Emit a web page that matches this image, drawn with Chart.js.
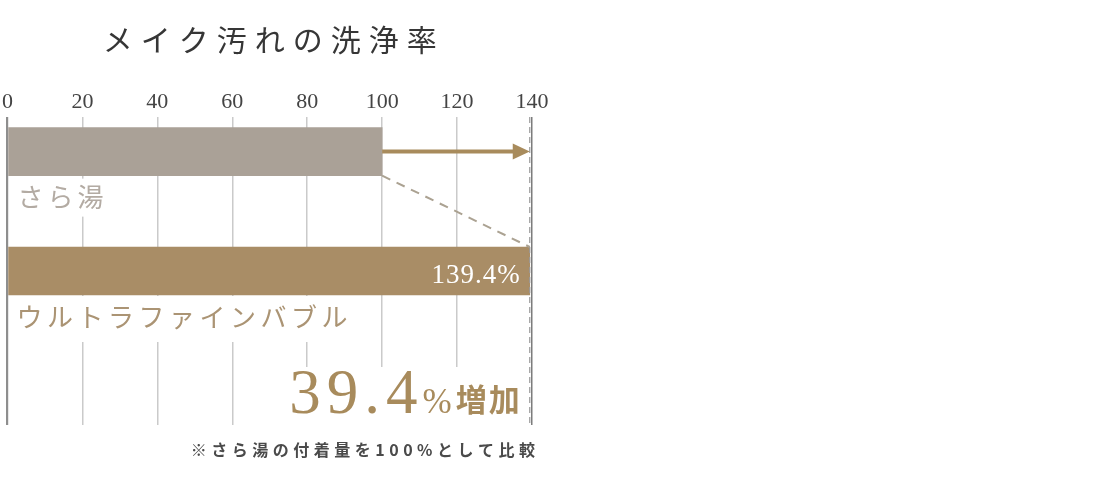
<!DOCTYPE html>
<html lang="ja">
<head>
<meta charset="utf-8">
<script src="https://cdn.jsdelivr.net/npm/chart.js@4/dist/chart.umd.min.js"></script>
<style>
  html, body { margin: 0; padding: 0; background: #fff; }
  #wrap { position: relative; width: 560px; height: 484px; }
</style>
</head>
<body>
<div id="wrap"><canvas id="rateChart"></canvas></div>
<script>
// data
var chartTitle = 'メイク汚れの洗浄率'
var categories = ['さら湯', 'ウルトラファインバブル']
var rates = [100, 139.4]
var xMin = 0, xMax = 140, xStep = 20
var footNote = '※さら湯の付着量を100%として比較'

var barColors = ['#aaa197', '#a98d66']
var labelColors = ['#b3aba3', '#ab9474']
var gold = '#a88b5c'

var JP = '"Noto Sans CJK JP", "Noto Sans", sans-serif'
var SERIF = '"Liberation Serif", "DejaVu Serif", serif'

// draws text char by char so the spacing matches the print look
function spaced(ctx, text, x, y, gap, align) {
    var chars = Array.from(text)
    var widths = chars.map(function (c) { return ctx.measureText(c).width })
    var total = widths.reduce(function (a, b) { return a + b }, 0) + gap * (chars.length - 1)
    var cx = x
    if (align == 'right') cx = x - total
    else if (align == 'center') cx = x - total / 2
    ctx.textAlign = 'left'
    chars.forEach(function (c, i) {
        ctx.fillText(c, cx, y)
        cx += widths[i] + gap
    })
    return total
}

var extras = {
    id: 'extras',
    afterDatasetsDraw: function (chart) {
        var ctx = chart.ctx
        var area = chart.chartArea
        var xs = chart.scales.x
        var bars = chart.getDatasetMeta(0).data
        var b0 = bars[0], b1 = bars[1]
        var top0 = b0.y - b0.height / 2, bot0 = b0.y + b0.height / 2
        var top1 = b1.y - b1.height / 2, bot1 = b1.y + b1.height / 2

        ctx.save()

        // white patches behind the labels (they cut the grid lines)
        ctx.fillStyle = '#fff'
        ctx.fillRect(area.left + 2, bot0 + 3, 100, 38)
        ctx.fillRect(area.left + 2, bot1 + 1, 346, 46)
        ctx.fillRect(xs.getPixelForValue(72), area.bottom - 58, xs.getPixelForValue(rates[1]) - xs.getPixelForValue(72) - 3, 58)

        // category labels under the bars
        ctx.font = '26px ' + JP
        ctx.textBaseline = 'middle'
        ctx.fillStyle = labelColors[0]
        spaced(ctx, categories[0], area.left + 10, bot0 + 22, 4, 'left')
        ctx.fillStyle = labelColors[1]
        spaced(ctx, categories[1], area.left + 9, bot1 + 22, 4.5, 'left')

        // value label inside the second bar
        ctx.textBaseline = 'alphabetic'
        ctx.fillStyle = '#fff'
        ctx.font = '27px ' + SERIF
        spaced(ctx, rates[1] + '%', b1.x - 10, b1.y + 12, 1, 'right')

        // dashed line at the end of the long bar
        var xEnd = xs.getPixelForValue(rates[1])
        ctx.strokeStyle = '#9a9a9a'
        ctx.lineWidth = 1.2
        ctx.setLineDash([6, 4])
        ctx.beginPath()
        ctx.moveTo(xEnd, area.top)
        ctx.lineTo(xEnd, area.bottom)
        ctx.stroke()

        // dashed diagonal from bar 1 corner to bar 2 corner
        ctx.strokeStyle = '#aba292'
        ctx.lineWidth = 2
        ctx.setLineDash([9, 7])
        ctx.beginPath()
        ctx.moveTo(b0.x, bot0)
        ctx.lineTo(b1.x, top1)
        ctx.stroke()
        ctx.setLineDash([])

        // arrow from 100 to the new value
        ctx.strokeStyle = gold
        ctx.fillStyle = gold
        ctx.lineWidth = 4
        ctx.beginPath()
        ctx.moveTo(b0.x, b0.y)
        ctx.lineTo(xEnd - 14, b0.y)
        ctx.stroke()
        ctx.beginPath()
        ctx.moveTo(xEnd, b0.y)
        ctx.lineTo(xEnd - 17, b0.y - 8)
        ctx.lineTo(xEnd - 17, b0.y + 8)
        ctx.closePath()
        ctx.fill()

        // big increase figure
        var inc = (rates[1] - rates[0]).toFixed(1)
        var base = area.bottom - 12
        var right = xEnd - 10
        ctx.fillStyle = gold
        ctx.font = 'bold 31px ' + JP
        var w = spaced(ctx, '増加', right, base - 2, 2, 'right')
        right -= w + 4
        ctx.font = '35px ' + SERIF
        w = spaced(ctx, '%', right, base, 0, 'right')
        right -= w + 5
        ctx.font = '63px ' + SERIF
        spaced(ctx, inc, right, base, 6, 'right')

        ctx.restore()
    },
    afterDraw: function (chart) {
        var ctx = chart.ctx
        var area = chart.chartArea
        ctx.save()
        ctx.textBaseline = 'middle'
        ctx.fillStyle = '#363636'
        ctx.font = '30px ' + JP
        spaced(ctx, chartTitle, (area.left + area.right) / 2, 40, 8, 'center')

        ctx.fillStyle = '#4a4a4a'
        ctx.font = 'bold 16px ' + JP
        spaced(ctx, footNote, area.right + 3, area.bottom + 25, 4.5, 'right')
        ctx.restore()
    }
}

var ctx = document.getElementById('rateChart').getContext('2d')
var rateChart = new Chart(ctx, {
    type: 'bar',
    data: {
        datasets: [{
            data: rates.map(function (v, i) { return { x: v, y: i } }),
            backgroundColor: barColors,
            borderWidth: 0,
            barThickness: 48
        }]
    },
    options: {
        indexAxis: 'y',
        responsive: true,
        maintainAspectRatio: false,
        animation: false,
        layout: { padding: { top: 60, left: 5, right: 28, bottom: 59 } },
        plugins: {
            legend: { display: false },
            tooltip: { enabled: false },
            title: { display: false }
        },
        scales: {
            x: {
                type: 'linear',
                position: 'top',
                min: xMin,
                max: xMax,
                afterFit: function (scale) { scale.height = 57 },
                ticks: {
                    stepSize: xStep,
                    padding: 2,
                    color: '#444',
                    font: { family: SERIF, size: 22 }
                },
                border: { display: false },
                grid: {
                    drawTicks: false,
                    color: function (c) {
                        if (c.tick.value == xMin) return '#8e8e8e'
                        if (c.tick.value == xMax) return '#7c7c7c'
                        return '#cacaca'
                    },
                    lineWidth: function (c) {
                        return c.tick.value == xMin ? 2.2 : 1.5
                    }
                }
            },
            y: {
                type: 'linear',
                display: false,
                offset: false,
                reverse: true,
                min: -0.29,
                max: 2.29
            }
        }
    },
    plugins: [extras]
})
</script>
</body>
</html>
